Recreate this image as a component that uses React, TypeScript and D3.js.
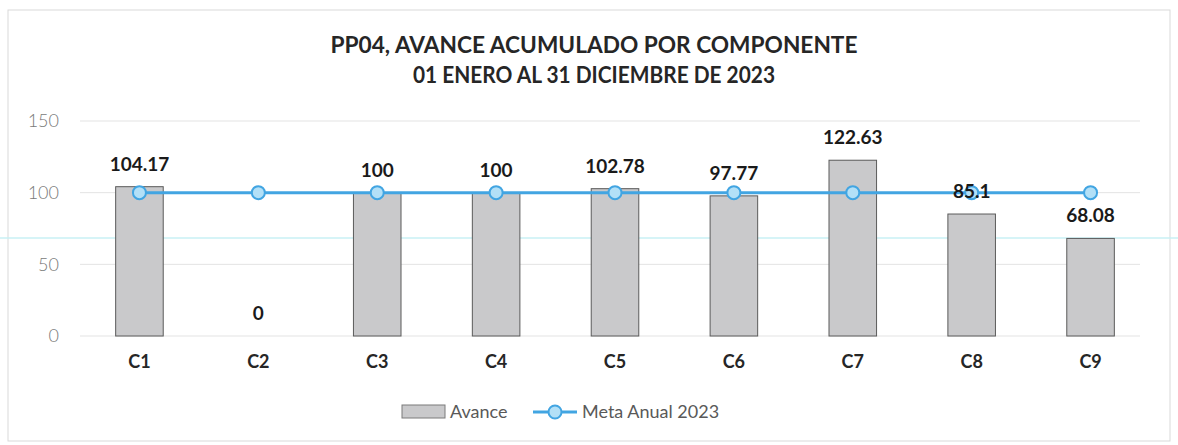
import React from "react";
import * as d3 from "d3";

const categories = ["C1", "C2", "C3", "C4", "C5", "C6", "C7", "C8", "C9"];
const avance = [104.17, 0, 100, 100, 102.78, 97.77, 122.63, 85.1, 68.08];
const metaAnual = [100, 100, 100, 100, 100, 100, 100, 100, 100];
const yTicks = [0, 50, 100, 150];
const titleLines = ["PP04, AVANCE ACUMULADO POR COMPONENTE", "01 ENERO AL 31 DICIEMBRE DE 2023"];

const W = 1178;
const H = 445;
const margin = { left: 80, right: 28, top: 121, bottom: 109 };
const FONT = "Lato, 'Open Sans', sans-serif";
const titleWidths = [527, 362];

export default function App() {
  const x = d3
    .scaleBand<string>()
    .domain(categories)
    .range([margin.left, W - margin.right])
    .paddingInner(0.6)
    .paddingOuter(0.3);
  const y = d3.scaleLinear().domain([0, 150]).range([H - margin.bottom, margin.top]);
  const cx = (c: string) => (x(c) ?? 0) + x.bandwidth() / 2;

  const line = d3
    .line<number>()
    .x((_, i) => cx(categories[i]))
    .y((d) => y(d));

  return (
    <svg width={W} height={H} style={{ position: "absolute", left: 0, top: 0, background: "#fff" }}>
      <rect x={8} y={10} width={W - 16} height={H - 14} fill="#fff" stroke="#d9d9d9" strokeWidth={1} />
      {/* title */}
      {titleLines.map((t, i) => (
        <text
          key={t}
          x={594}
          y={53 + i * 30}
          textAnchor="middle"
          fontFamily={FONT}
          fontWeight={700}
          fontSize={22}
          textLength={titleWidths[i]}
          lengthAdjust="spacingAndGlyphs"
          fill="#262626"
        >
          {t}
        </text>
      ))}
      {/* gridlines */}
      {yTicks.map((t) => (
        <g key={t}>
          <line x1={margin.left} x2={W - margin.right - 10} y1={y(t)} y2={y(t)} stroke="#e3e3e3" strokeWidth={1} />
          <text x={59} y={y(t)} dy="0.35em" textAnchor="end" fontFamily={FONT} fontWeight={300} fontSize={18} fill="#7a7a7a">
            {t}
          </text>
        </g>
      ))}
      {/* scan artifact line */}
      <line x1={0} x2={W} y1={238} y2={238} stroke="#c9f1f4" strokeWidth={1.5} />
      {/* bars */}
      {categories.map((c, i) => (
        <rect
          key={c}
          x={x(c)}
          y={y(avance[i])}
          width={x.bandwidth()}
          height={y(0) - y(avance[i])}
          fill="#c9c9cb"
          stroke="#5a5a5a"
          strokeWidth={1}
        />
      ))}
      {/* meta line */}
      <path d={line(metaAnual) ?? ""} fill="none" stroke="#42a5e2" strokeWidth={3} />
      {categories.map((c, i) => (
        <circle key={c} cx={cx(c)} cy={y(metaAnual[i])} r={6.5} fill="#b3e0f7" stroke="#42a5e2" strokeWidth={2} />
      ))}
      {/* value labels */}
      {categories.map((c, i) => (
        <text
          key={c}
          x={cx(c)}
          y={y(avance[i]) - 16}
          textAnchor="middle"
          fontFamily={FONT}
          fontWeight={700}
          fontSize={19}
          fill="#1a1a1a"
        >
          {avance[i]}
        </text>
      ))}
      {/* x labels */}
      {categories.map((c) => (
        <text key={c} x={cx(c)} y={368} textAnchor="middle" fontFamily={FONT} fontWeight={700} fontSize={18} fill="#262626">
          {c}
        </text>
      ))}
      {/* legend */}
      <rect x={402} y={405} width={43} height={13} fill="#c9c9cb" stroke="#7a7a7a" strokeWidth={1} />
      <text x={450} y={418} fontFamily={FONT} fontSize={18} fill="#595959">
        Avance
      </text>
      <line x1={533} x2={577} y1={412} y2={412} stroke="#42a5e2" strokeWidth={3} />
      <circle cx={555} cy={412} r={6.5} fill="#b3e0f7" stroke="#42a5e2" strokeWidth={2} />
      <text x={582} y={418} fontFamily={FONT} fontSize={18} fill="#595959">
        Meta Anual 2023
      </text>
    </svg>
  );
}
